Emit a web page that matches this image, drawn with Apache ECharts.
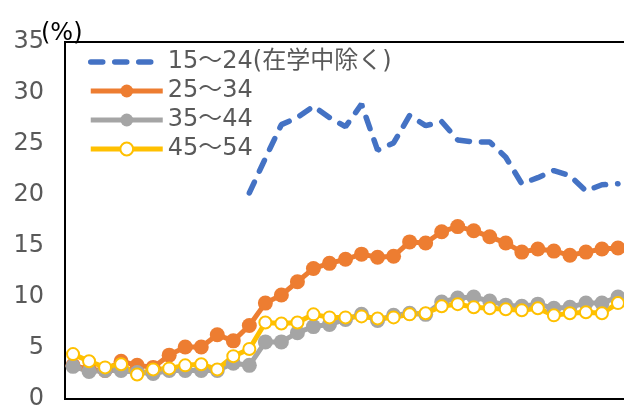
<!DOCTYPE html>
<html>
<head>
<meta charset="utf-8">
<script src="https://cdn.jsdelivr.net/npm/echarts@6/dist/echarts.min.js"></script>
<style>
  html, body { margin: 0; padding: 0; background: #fff; }
  #chart { width: 624px; height: 405px; }
</style>
</head>
<body>
<div id="chart"></div>
<script>
// Survey years along the horizontal axis (labels are not shown)
const years = ['1988','1989','1990','1991','1992','1993','1994','1995','1996','1997',
  '1998','1999','2000','2001','2002','2003','2004','2005','2006','2007',
  '2008','2009','2010','2011','2012','2013','2014','2015','2016','2017',
  '2018','2019','2020','2021','2022'];

// Share by age group (%)
const age15to24 = [null, null, null, null, null, null, null, null, null, null,
  null, 20.2, 23.6, 26.9, 27.6, 28.7, 27.6, 26.7, 28.9, 24.4,
  25.1, 27.8, 26.8, 27.2, 25.4, 25.2, 25.2, 23.7, 21.1, 21.7,
  22.4, 21.9, 20.4, 21.0, 21.1];
const age25to34 = [3.3, 2.9, 2.8, 3.7, 3.3, 3.1, 4.3, 5.1, 5.1, 6.3,
  5.7, 7.2, 9.4, 10.2, 11.5, 12.8, 13.3, 13.7, 14.2, 13.9,
  14.0, 15.4, 15.3, 16.4, 16.9, 16.5, 15.9, 15.3, 14.4, 14.7,
  14.5, 14.1, 14.4, 14.7, 14.8];
const age35to44 = [3.2, 2.7, 2.8, 2.8, 2.6, 2.5, 2.8, 2.8, 2.8, 2.8,
  3.5, 3.3, 5.6, 5.6, 6.5, 7.1, 7.3, 7.8, 8.3, 7.7,
  8.2, 8.4, 8.3, 9.5, 9.9, 10.0, 9.6, 9.2, 9.1, 9.3,
  8.9, 9.0, 9.4, 9.4, 10.0];
const age45to54 = [4.4, 3.7, 3.1, 3.4, 2.4, 2.9, 3.0, 3.3, 3.4, 2.9,
  4.2, 4.9, 7.5, 7.4, 7.5, 8.3, 8.0, 8.0, 8.1, 7.9,
  8.0, 8.3, 8.4, 9.1, 9.3, 9.0, 8.9, 8.8, 8.7, 8.9,
  8.2, 8.4, 8.5, 8.4, 9.4];

const seriesNames = ['15～24(在学中除く)', '25～34', '35～44', '45～54'];
const yTicks = { min: 0, max: 35, step: 5 };

const FONT = '"DejaVu Sans", "Noto Sans CJK JP", sans-serif';
const BLUE = '#4472C4', ORANGE = '#ED7D31', GRAY = '#A5A5A5', GOLD = '#FFC000';
const LINE_W = 5;
const DASH = { color: BLUE, width: 5.5, type: [12, 12], cap: 'round' };

const chart = echarts.init(document.getElementById('chart'), null, { renderer: 'canvas' });

const markerSeries = (name, data, color, hollow) => ({
  name, type: 'line', data,
  symbol: 'circle', symbolSize: hollow ? 12 : 15,
  showSymbol: true, showAllSymbol: true,
  lineStyle: { color, width: LINE_W },
  itemStyle: hollow ? { color: '#fff', borderColor: color, borderWidth: 2 } : { color },
  emphasis: { disabled: true }
});

chart.setOption({
  animation: false,
  backgroundColor: '#fff',
  grid: {
    left: 65, top: 42, width: 561, bottom: 6,
    containLabel: false, outerBoundsMode: 'none',
    show: true, borderColor: '#000', borderWidth: 2, backgroundColor: 'transparent'
  },
  graphic: [{
    type: 'text', left: 41, top: 22,
    style: { text: '(%)', font: '24px ' + FONT, fill: '#000' }
  }],
  legend: {
    orient: 'vertical', left: 83, top: 45,
    itemWidth: 72, itemHeight: 16, itemGap: 5,
    textStyle: { fontSize: 24, color: '#595959', fontFamily: FONT },
    selectedMode: false,
    data: [
      { name: seriesNames[0], lineStyle: DASH, itemStyle: { opacity: 0 } },
      { name: seriesNames[1], lineStyle: { color: ORANGE, width: LINE_W } },
      { name: seriesNames[2], lineStyle: { color: GRAY, width: LINE_W } },
      { name: seriesNames[3], lineStyle: { color: GOLD, width: LINE_W } }
    ]
  },
  xAxis: {
    type: 'category', data: years, boundaryGap: true,
    axisLine: { show: false }, axisTick: { show: false }, axisLabel: { show: false },
    splitLine: { show: false }
  },
  yAxis: {
    type: 'value', min: yTicks.min, max: yTicks.max, interval: yTicks.step,
    axisLine: { show: false }, axisTick: { show: false }, splitLine: { show: false },
    axisLabel: { fontSize: 24, color: '#595959', fontFamily: FONT, margin: 21 }
  },
  series: [
    {
      name: seriesNames[0], type: 'line', data: age15to24, symbol: 'none',
      lineStyle: DASH, itemStyle: { color: BLUE }, emphasis: { disabled: true }
    },
    markerSeries(seriesNames[1], age25to34, ORANGE, false),
    markerSeries(seriesNames[2], age35to44, GRAY, false),
    markerSeries(seriesNames[3], age45to54, GOLD, true)
  ]
});
</script>
</body>
</html>
